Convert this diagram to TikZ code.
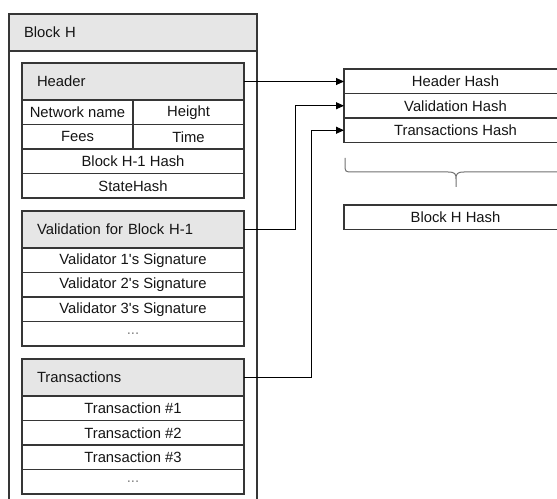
\documentclass[tikz,border=0pt]{standalone}
\usepackage{fontspec}
\setmainfont{Liberation Sans}[Ligatures=TeXOff]
\usetikzlibrary{arrows.meta,calc}
\definecolor{lc}{HTML}{363636}
\definecolor{gf}{HTML}{E6E6E6}
\definecolor{tc}{HTML}{141414}
\definecolor{bc}{HTML}{707070}
\begin{document}
\begin{tikzpicture}[x=1bp,y=-1bp,
  box/.style={draw=lc, line width=1.1bp, inner sep=0pt, outer sep=0pt, anchor=north west,
    text=tc, font=\fontsize{14.8bp}{17bp}\selectfont},
  cell/.style={box, minimum height=24.5bp},
  ghead/.style={box, fill=gf, align=left, minimum height=37bp, text width=#1, inner xsep=15bp},
  dots/.style={cell, text=gray},
  arr/.style={draw=black, line width=1bp, -{Triangle[length=8bp,width=7bp]}},
  brc/.style={draw=bc, line width=1bp}]
\useasboundingbox (0,0) rectangle (557,499);
\clip (0,0) rectangle (557,499);
% outer block
\node[box, minimum width=248bp, minimum height=520bp] (blk) at (9,14) {};
\node[ghead=218bp] (blkh) at (9,14) {Block H};
% header
\node[ghead=192bp] (hd) at (22,63) {Header};
\node[cell, minimum width=111bp] (nn) at (22,100) {Network name};
\node[cell, minimum width=111bp] (ht) at (133,100) {Height};
\node[cell, minimum width=111bp] (fe) at (22,124.5) {Fees};
\node[cell, minimum width=111bp] (ti) at (133,124.5) {Time};
\node[cell, minimum width=222bp] (bh1) at (22,149) {Block H-1 Hash};
\node[cell, minimum width=222bp] (sh) at (22,173.5) {StateHash};
% validation
\node[ghead=192bp] (va) at (22,211) {Validation for Block H-1};
\node[cell, minimum width=222bp] (v1) at (22,248) {Validator 1's Signature};
\node[cell, minimum width=222bp] (v2) at (22,272.5) {Validator 2's Signature};
\node[cell, minimum width=222bp] (v3) at (22,297) {Validator 3's Signature};
\node[dots, minimum width=222bp] (vd) at (22,321.5) {...};
% transactions
\node[ghead=192bp] (tr) at (22,359) {Transactions};
\node[cell, minimum width=222bp] (t1) at (22,396) {Transaction \#1};
\node[cell, minimum width=222bp] (t2) at (22,420.5) {Transaction \#2};
\node[cell, minimum width=222bp] (t3) at (22,445) {Transaction \#3};
\node[dots, minimum width=222bp] (td) at (22,469.5) {...};
% right side hashes
\node[cell, minimum width=223bp] (hh) at (344,69) {Header Hash};
\node[cell, minimum width=223bp] (vh) at (344,93.5) {Validation Hash};
\node[cell, minimum width=223bp] (th) at (344,118) {Transactions Hash};
\node[cell, minimum width=223bp] (bhh) at (344,205) {Block H Hash};
% connectors
\coordinate (cv) at (295,0);
\coordinate (ct) at (311,0);
\draw[arr] (hd.east) -- (hd.east -| hh.west);
\draw[arr] (va.east) -- (va.east -| cv) -- (vh.west -| cv) -- (vh.west);
\draw[arr] (tr.east) -- (tr.east -| ct) -- (th.west -| ct) -- (th.west);
% brace
\draw[brc] (345,158) -- (345,164) .. controls (345,172) .. (353,172) -- (448,172)
  .. controls (455,172) and (456,174) .. (456,179) -- (456,187)
  (456,179) .. controls (456,174) and (457,172) .. (464,172) -- (559,172)
  .. controls (567,172) .. (567,164) -- (567,158);
\end{tikzpicture}
\end{document}
